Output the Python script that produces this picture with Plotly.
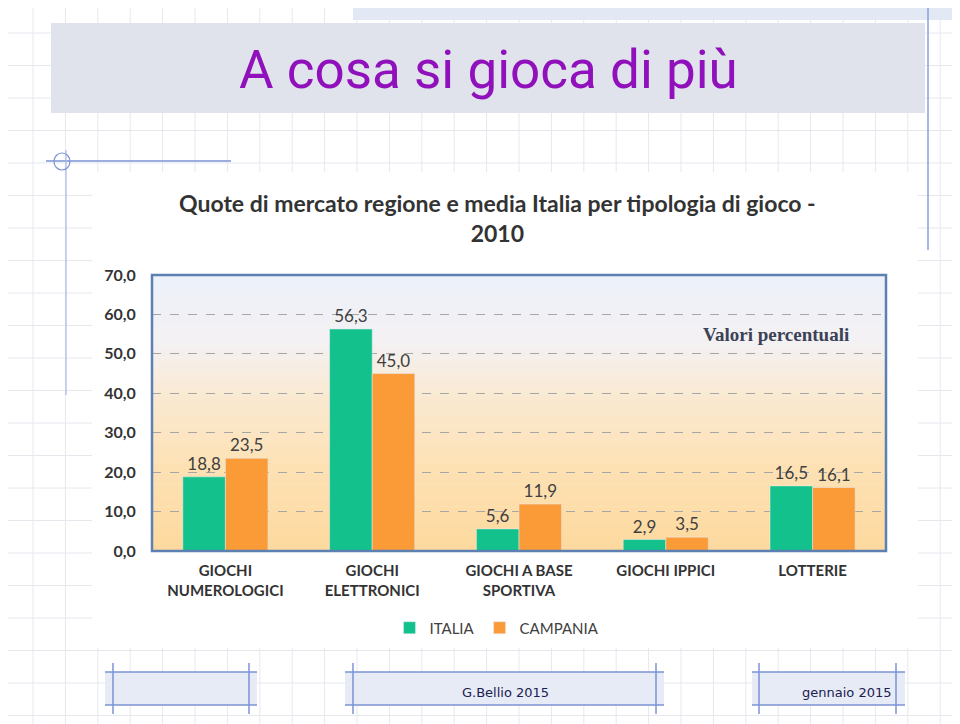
import plotly.graph_objects as go

categories = ["GIOCHI<br>NUMEROLOGICI", "GIOCHI<br>ELETTRONICI", "GIOCHI A BASE<br>SPORTIVA", "GIOCHI IPPICI", "LOTTERIE"]
italia = [18.8, 56.3, 5.6, 2.9, 16.5]
campania = [23.5, 45.0, 11.9, 3.5, 16.1]
y_ticks = [0, 10, 20, 30, 40, 50, 60, 70]

# page body offset of the rendered figure
OFF = 8
W, H = 960, 724
L, R, T, B = 152, 886, 275, 551

def px(x):
    return (x - L) / (R - L)

def py(y):
    return (B - y) / (B - T)

shapes = []
# faint slide grid
gx = 33.0
while gx < W:
    shapes.append(dict(type="line", xref="paper", yref="paper", x0=px(gx), x1=px(gx), y0=py(0), y1=py(H),
                       line=dict(color="#e6e8ee", width=1), layer="below"))
    gx += 32.4
gy = 33.0
while gy < H:
    shapes.append(dict(type="line", xref="paper", yref="paper", x0=px(0), x1=px(W), y0=py(gy), y1=py(gy),
                       line=dict(color="#e6e8ee", width=1), layer="below"))
    gy += 32.5

def rect(x0, y0, x1, y1, fill, layer="below"):
    shapes.append(dict(type="rect", xref="paper", yref="paper", x0=px(x0), x1=px(x1), y0=py(y0), y1=py(y1),
                       fillcolor=fill, layer=layer, line=dict(width=0)))

def hline(x0, x1, y, color="#7b93d6", w=1.5):
    shapes.append(dict(type="line", xref="paper", yref="paper", x0=px(x0), x1=px(x1), y0=py(y), y1=py(y),
                       line=dict(color=color, width=w), layer="below"))

def vline(x, y0, y1, color="#7b93d6", w=1.5):
    shapes.append(dict(type="line", xref="paper", yref="paper", x0=px(x), x1=px(x), y0=py(y0), y1=py(y1),
                       line=dict(color=color, width=w), layer="below"))

# top hatched strip
rect(353, 3, 960, 20, "#e2e8f4")
vline(928, 0, 250, "#8aa0dc", 1.5)
# title box
rect(51, 23, 925, 113, "#e1e3ec")
# white area of the chart image
rect(92, 172, 918, 648, "#ffffff")
# left decoration
hline(46, 231, 161)
vline(66, 150, 395, "#a9b8e6", 1.2)
shapes.append(dict(type="circle", xref="paper", yref="paper", x0=px(54), x1=px(70), y0=py(153), y1=py(170),
                   line=dict(color="#7b93d6", width=1.2), layer="below"))

# footer boxes
for (a, b, va, vb) in [(105, 257, 113, 249), (345, 664, 353, 656), (752, 905, 759, 896)]:
    rect(a, 672, b, 705, "#e6ebf6")
    hline(a, b, 672)
    hline(a, b, 705)
    vline(va, 663, 714)
    vline(vb, 663, 714)

# plot-area gradient
stops = [(0.0, (253, 217, 158)), (0.3, (253, 225, 180)), (0.55, (250, 233, 208)),
         (0.75, (244, 241, 242)), (1.0, (236, 241, 250))]
N = 50
for i in range(N):
    t = (i + 0.5) / N
    for j in range(len(stops) - 1):
        if stops[j][0] <= t <= stops[j + 1][0]:
            f = (t - stops[j][0]) / (stops[j + 1][0] - stops[j][0])
            c = [round(stops[j][1][k] + f * (stops[j + 1][1][k] - stops[j][1][k])) for k in range(3)]
            break
    shapes.append(dict(type="rect", xref="paper", yref="paper", x0=0, x1=1, y0=i / N, y1=(i + 1) / N + 0.002,
                       fillcolor="rgb(%d,%d,%d)" % tuple(c), line=dict(width=0), layer="below"))

# plot frame
shapes.append(dict(type="rect", xref="paper", yref="paper", x0=0, x1=1, y0=0, y1=1,
                   line=dict(color="#5d80b3", width=2.5), fillcolor="rgba(0,0,0,0)", layer="above"))

label_font = dict(family="Lato, Open Sans, sans-serif", size=17, color="#404040")

fig = go.Figure()
fig.add_trace(go.Bar(name="ITALIA", x=categories, y=italia, marker_color="#12c18b",
                     texttemplate="%{y:.1f}", textposition="outside", textfont=label_font, cliponaxis=False))
fig.add_trace(go.Bar(name="CAMPANIA", x=categories, y=campania, marker_color="#fb9b38",
                     texttemplate="%{y:.1f}", textposition="outside", textfont=label_font, cliponaxis=False))

annotations = [
    dict(text="A cosa si gioca di più", xref="paper", yref="paper", x=px(488), y=py(70),
         showarrow=False, font=dict(family="Roboto, sans-serif", size=53, color="#9010bc"),
         xanchor="center", yanchor="middle"),
    dict(text="<b>Quote di mercato regione e media Italia per tipologia di gioco -</b><br><b>2010</b>",
         xref="paper", yref="paper", x=px(497), y=py(218), showarrow=False,
         font=dict(family="Lato, sans-serif", size=23, color="#333333"), xanchor="center", yanchor="middle"),
    dict(text="<b>Valori percentuali</b>", xref="paper", yref="paper", x=px(776), y=py(334), showarrow=False,
         font=dict(family="Liberation Serif, serif", size=19, color="#3b4256"), xanchor="center", yanchor="middle"),
    dict(text="G.Bellio 2015", xref="paper", yref="paper", x=px(505), y=py(692), showarrow=False,
         font=dict(family="DejaVu Sans, sans-serif", size=13, color="#1c2050"), xanchor="center", yanchor="middle"),
    dict(text="gennaio 2015", xref="paper", yref="paper", x=px(846), y=py(692), showarrow=False,
         font=dict(family="DejaVu Sans, sans-serif", size=13, color="#1c2050"), xanchor="center", yanchor="middle"),
]

fig.update_layout(
    width=W - OFF, height=H - OFF,
    margin=dict(l=L - OFF, r=W - R, t=T - OFF, b=H - B, autoexpand=False),
    paper_bgcolor="#ffffff", plot_bgcolor="rgba(0,0,0,0)",
    barmode="group", bargap=0.42, bargroupgap=0,
    separators=",.",
    showlegend=True,
    legend=dict(orientation="h", x=px(497), y=py(628), xanchor="center", yanchor="middle",
                font=dict(family="Lato, sans-serif", size=15, color="#404040"), bgcolor="rgba(0,0,0,0)",
                itemwidth=30),
    shapes=shapes, annotations=annotations,
    xaxis=dict(showgrid=False, showline=False, zeroline=False, ticks="outside", ticklen=6,
               tickcolor="rgba(0,0,0,0)",
               tickfont=dict(family="Lato, sans-serif", size=15, color="#333333", weight="bold")),
    yaxis=dict(range=[0, 70], tickvals=y_ticks, tickformat=".1f", showgrid=True, gridcolor="#a6a6a6",
               griddash="dash", gridwidth=1, zeroline=False, showline=False, ticks="outside", ticklen=12,
               tickcolor="rgba(0,0,0,0)",
               tickfont=dict(family="Lato, sans-serif", size=16, color="#333333", weight="bold")),
)

fig.write_html("out.html")
